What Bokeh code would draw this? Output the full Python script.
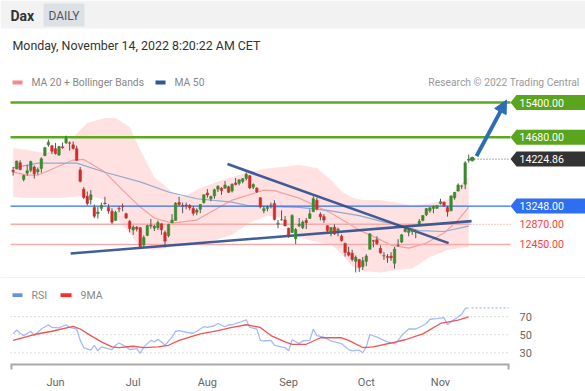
from bokeh.plotting import figure
from bokeh.layouts import column
from bokeh.models import Range1d, LinearAxis, FixedTicker, Arrow, NormalHead, ColumnDataSource
from bokeh.core.properties import value
from bokeh.embed import file_html
from bokeh.resources import INLINE

# ---------------- data (trading-day index 0 = 16 May 2022) ----------------
opens = [13990,14020,14150,13800,13930,13990,14060,13960,14030,14300,14520,14500,
         14440,14310,14480,14560,14560,14520,14440,14000,13600,13450,13380,13220,13090,13200,13310,13220,13140,12950,13200,13240,13090,12930,
         12750,12810,12800,12440,12640,12850,12790,12800,12880,12700,12630,12900,12950,13320,13260,13270,13260,13200,13120,13180,13320,
         13520,13400,13460,13600,13620,13620,13650,13560,13730,13720,13760,13820,13880,13640,13620,13420,13150,13200,13260,13300,12870,12960,12960,
         12790,12700,12570,12840,12800,12950,12990,13130,13370,13080,13030,12840,12700,12810,12740,12620,12470,12290,12270,12100,12140,11990,
         12100,12350,12530,12550,12370,12210,12200,12210,12060,12430,12500,12720,12700,12720,12710,12880,12950,13070,13150,13200,13200,
         13300,13330,13220,13150,13420,13560,13660,13700,14200]
highs = [14060,14190,14200,13900,14100,14190,14090,14050,14260,14480,14630,14520,
         14560,14500,14570,14710,14590,14590,14500,14060,13640,13550,13580,13280,13230,13320,13440,13290,13200,13150,13250,13300,13110,12960,
         12850,12830,12810,12640,12860,12980,12860,12950,12890,12740,12880,13080,13330,13440,13320,13320,13290,13250,13200,13290,13490,
         13600,13460,13610,13680,13640,13770,13670,13720,13830,13800,13830,13950,13890,13720,13640,13430,13250,13260,13320,13370,12960,13160,13040,
         12800,13080,12790,13000,12950,13000,13180,13450,13420,13120,13080,12850,12810,12870,12800,12660,12490,12400,12340,12220,12140,12190,
         12250,12680,12550,12620,12430,12290,12250,12290,12400,12560,12670,12830,12790,12780,12760,12980,13060,13200,13230,13260,13270,
         13400,13340,13250,13470,13540,13720,13690,14180,14320]
lows = [13880,14010,13990,13760,13880,13950,13820,13900,13940,14280,14480,14330,
        14320,14290,14440,14540,14400,14420,14190,13740,13390,13260,13280,13000,12990,13150,13280,13090,12880,12950,13120,13140,12980,12700,
        12650,12720,12380,12390,12620,12780,12730,12750,12650,12390,12600,12900,12950,13250,13100,13180,13160,13050,13060,13100,13300,
        13420,13350,13400,13540,13480,13610,13520,13530,13680,13680,13720,13780,13600,13600,13520,13200,13100,13140,13200,12950,12790,12950,12830,
        12590,12690,12460,12810,12770,12770,12990,13130,13160,12950,12900,12700,12620,12650,12620,12510,12200,12200,12100,11870,11880,11920,
        12000,12350,12390,12440,12260,12130,12070,12110,11950,12400,12480,12700,12620,12650,12580,12830,12930,13040,13110,13100,13200,
        13280,13230,13030,13140,13380,13550,13600,13600,14150]
closes = [13964,14186,14008,13882,13982,14175,13919,14008,14231,14462,14575,14388,
          14340,14485,14460,14653,14556,14445,14198,13762,13427,13304,13483,13038,13127,13266,13293,13145,12912,13118,13186,13231,13003,12784,
          12813,12773,12401,12595,12843,12834,12832,12906,12756,12520,12865,12959,13308,13282,13247,13254,13211,13097,13166,13282,13484,
          13479,13449,13587,13662,13574,13688,13535,13700,13695,13795,13816,13910,13626,13697,13545,13230,13194,13221,13272,12971,12893,12962,12835,
          12631,13050,12761,12872,12916,12904,13088,13403,13189,13028,12957,12741,12804,12671,12767,12532,12284,12228,12140,12184,11976,12114,
          12209,12671,12517,12471,12273,12220,12180,12172,12356,12438,12650,12766,12741,12767,12731,12931,13053,13196,13211,13243,13254,
          13339,13257,13130,13460,13533,13688,13666,14146,14224.86]
last_price = 14224.86

month_idx = [12, 34, 55, 78, 100, 121]
month_labels = ["Jun", "Jul", "Aug", "Sep", "Oct", "Nov"]

ma20_idx = [0, 4, 7, 17, 20, 26, 31, 36, 40, 45, 52, 62, 71, 74, 81, 90, 98, 103, 107, 112, 117, 122, 126, 129]
ma20_val = [13954, 13890, 13890, 14204, 14218, 13954, 13580, 13227, 13000, 12895, 12957, 13373, 13580, 13570, 13414, 13103,
            12749, 12583, 12438, 12375, 12479, 12687, 12957, 13227]
ma50_idx = [0, 7, 18, 26, 36, 44, 52, 62, 67, 81, 89, 98, 107, 115, 122, 129]
ma50_val = [14040, 14140, 14140, 13950, 13750, 13540, 13400, 13330, 13250, 13220, 13160, 13050, 12880, 12740, 12720, 12830]
band_idx = [0, 4, 9, 13, 17, 21, 26, 29, 33, 36, 40, 45, 48, 53, 58, 62, 67, 72, 76, 81, 86, 90, 93, 96, 99, 104, 109, 113, 118, 123, 126, 129]
band_up = [14453, 14411, 14350, 14420, 14681, 14972, 15076, 15076, 14889, 14411, 13850, 13539, 13435, 13620, 13760, 13850, 13954,
           14030, 14058, 14100, 14037, 13788, 13550, 13420, 13373, 13373, 13310, 13260, 13300, 13373, 13643, 13850]
band_lo = [13435, 13414, 13414, 13414, 13435, 13470, 13373, 13020, 12687, 12396, 12334, 12396, 12420, 12450, 12560, 12650, 12900,
           13050, 13000, 12600, 12500, 12450, 12250, 12000, 11900, 11870, 11920, 11950, 12190, 12334, 12370, 12396]

trend_down_x = [60.7, 123.3]
trend_down_y = [14121, 12479]
trend_up_x = [16.3, 129.8]
trend_up_y = [12263, 12936]

resistances = [15400, 14680]
pivot = 13248
supports = [12870, 12450]
arrow_from = (131.2, 14287)
arrow_to = (139.7, 15450)

rsi_idx = [0,1,2,3,5,6,8,10,11,13,15,16,18,19,20,22,23,24,25,28,29,30,32,33,35,36,37,39,40,41,42,43,45,46,47,49,51,52,54,55,57,58,
           60,61,62,64,66,67,69,70,71,73,74,76,77,78,79,81,82,84,85,86,88,90,91,93,95,96,98,99,100,101,103,105,106,108,109,110,112,
           114,115,117,118,120,122,123,125,126,127,128,129]
rsi_val = [50.9,55.2,51.6,49.0,53.8,49.0,56.3,61.0,58.0,57.5,61.0,58.0,56.3,43.7,35.8,32.9,38.3,32.2,36.5,33.6,38.3,40.8,36.5,33.6,
           34.7,29.3,36.5,43.7,42.0,44.8,42.0,38.3,47.3,53.8,54.5,52.7,51.6,53.8,58.8,58.0,59.9,62.4,58.8,61.0,61.0,63.5,66.5,58.0,
           56.3,43.7,43.0,43.7,38.3,36.5,35.8,32.2,44.4,40.1,43.0,43.7,56.3,49.0,47.3,43.0,42.0,40.1,33.6,32.2,32.9,30.0,36.5,50.2,
           47.3,43.7,42.0,40.1,43.7,49.0,56.3,56.3,58.0,62.4,67.1,67.8,68.9,61.0,67.1,69.6,72.5,79.0,79.7]
ma9_idx = [0, 6, 11, 17, 19, 22, 25, 28, 30, 34, 37, 41, 44, 47, 50, 53, 58, 62, 66, 70, 73, 77, 79, 83, 87, 93, 95, 99, 102, 107,
           111, 116, 121, 126, 129]
ma9_val = [43.7, 50.2, 53.8, 59.2, 56.3, 49.0, 42.0, 36.5, 35.8, 37.2, 35.8, 36.5, 38.3, 43.7, 47.3, 50.9, 54.5, 58.0, 61.0, 58.0,
           49.0, 42.0, 39.4, 39.4, 46.6, 46.6, 43.7, 35.8, 36.5, 40.8, 44.4, 50.9, 62.4, 66.0, 69.6]
rsi_ticks = [30, 50, 70]

# ---------------- layout helpers (page pixels) ----------------
PX0, PXS = 12.6, 3.532          # page x of day 0, pixels per trading day
def idx_at(px):
    return (px - PX0) / PXS

PPP = 20.775                    # index points per pixel on price panel
P_TOP = 15400 + 102 * PPP
P_BOT = 15400 - (278 - 102) * PPP
R_TOP = 70 + (317 - 278) * (40 / 37)
R_BOT = 30 - (366 - 354) * (40 / 37)

FONT = value("Roboto")
W = 585

# ---------------- price figure (page y 0..278) ----------------
p = figure(width=W, height=278, x_range=Range1d(idx_at(0), idx_at(585)), y_range=Range1d(P_BOT, P_TOP),
           output_backend="svg", toolbar_location=None, x_axis_location=None, y_axis_location=None,
           min_border=0, outline_line_color=None, background_fill_color="white", border_fill_color="white")
p.frame_align = False
p.xgrid.visible = False
p.ygrid.visible = False
p.extra_x_ranges = {"pgx": Range1d(0, 585)}
p.extra_y_ranges = {"pg": Range1d(278, 0)}

# header
p.quad(left=[0], right=[585], top=[0], bottom=[28], fill_color="#f2f2f2", line_color=None,
       x_range_name="pgx", y_range_name="pg")
p.quad(left=[43], right=[84], top=[3], bottom=[26], fill_color="#dde1e6", line_color=None,
       x_range_name="pgx", y_range_name="pg")
p.text(x=[10], y=[15.5], text=["Dax"], text_font=FONT, text_font_size="14px", text_font_style="bold",
       text_color="#333333", text_baseline="middle", x_range_name="pgx", y_range_name="pg")
p.text(x=[63.5], y=[15], text=["DAILY"], text_font=FONT, text_font_size="12px", text_align="center",
       text_color="#555555", text_baseline="middle", x_range_name="pgx", y_range_name="pg")
p.text(x=[12], y=[44.5], text=["Monday, November 14, 2022 8:20:22 AM CET"], text_font=FONT, text_font_size="12.4px",
       text_color="#333333", text_baseline="middle", x_range_name="pgx", y_range_name="pg")
# legend
p.quad(left=[12, 155], right=[22, 165], top=[80, 80], bottom=[84, 84], fill_color=["#f58a8a", "#2f569a"],
       line_color=None, x_range_name="pgx", y_range_name="pg")
p.text(x=[31, 174], y=[82, 82], text=["MA 20 + Bollinger Bands", "MA 50"], text_font=FONT, text_font_size="10.3px",
       text_color="#888888", text_baseline="middle", x_range_name="pgx", y_range_name="pg")
p.text(x=[579], y=[82], text=["Research \u00a9 2022 Trading Central"], text_font=FONT, text_font_size="10.3px",
       text_color="#9a9a9a", text_baseline="middle", text_align="right", x_range_name="pgx", y_range_name="pg")
# separator
p.segment(x0=[0], x1=[585], y0=[277.5], y1=[277.5], line_color="#e4e4e4", line_width=1,
          x_range_name="pgx", y_range_name="pg")

# bollinger band + moving averages
p.varea(x=band_idx, y1=band_lo, y2=band_up, fill_color="#ffd9d9", fill_alpha=0.8)
p.line(ma20_idx, ma20_val, line_color="#f4a0a0", line_width=1.2)
p.line(ma50_idx, ma50_val, line_color="#93a9cf", line_width=1.2)

# horizontal levels
LX0, LX1 = 10, 510
p.segment(x0=[LX0] * 2, x1=[LX1] * 2, y0=resistances, y1=resistances, line_color="#5ca81e", line_width=2.5,
          x_range_name="pgx")
p.segment(x0=[LX0], x1=[LX1], y0=[pivot], y1=[pivot], line_color="#3070ee", line_width=1.4, x_range_name="pgx")
p.segment(x0=[LX0, LX0], x1=[470, LX1], y0=supports, y1=supports, line_color="#f7aaaa", line_width=1.4,
          x_range_name="pgx")
p.segment(x0=[470], x1=[LX1], y0=[supports[0]], y1=[supports[0]], line_color="#f0a0a0", line_width=1.2,
          line_dash="1 2", x_range_name="pgx")
p.segment(x0=[474], x1=[LX1], y0=[last_price], y1=[last_price], line_color="#777777", line_width=1.2,
          line_dash="1 2", x_range_name="pgx")

# trend lines
p.line(trend_down_x, trend_down_y, line_color="#2b4c8c", line_width=2.6, line_alpha=0.9)
p.line(trend_up_x, trend_up_y, line_color="#2b4c8c", line_width=2.6, line_alpha=0.9)

# candles
n = len(closes)
src = ColumnDataSource(dict(
    i=list(range(n)), o=opens, h=highs, l=lows, c=closes,
    top=[max(a, b) for a, b in zip(opens, closes)], bot=[min(a, b) for a, b in zip(opens, closes)],
    col=["#3a8a2e" if c >= o else "#d12b2b" for o, c in zip(opens, closes)]))
p.segment(x0="i", x1="i", y0="l", y1="h", source=src, line_color="#555555", line_width=1)
p.vbar(x="i", width=0.72, top="top", bottom="bot", source=src, fill_color="col", line_color="col", line_width=0.5)
p.scatter([n], [last_price], size=4, color="#3a8a2e")

# target arrow
p.add_layout(Arrow(end=NormalHead(size=13, fill_color="#2d6cb6", line_color="#2d6cb6"),
                   x_start=arrow_from[0], y_start=arrow_from[1], x_end=arrow_to[0], y_end=arrow_to[1],
                   line_color="#2d6cb6", line_width=4))

# right-hand level tags
HALF = 7.5 * PPP
tags = [(resistances[0], "#5aa51c", "white"), (resistances[1], "#5aa51c", "white"),
        (last_price, "#333333", "white"), (pivot, "#2e6ff2", "white"),
        (supports[0], None, "#ff3b3b"), (supports[1], None, "#ff3b3b")]
for lvl, bg, fg in tags:
    if bg:
        p.patch(x=[510, 516, 585, 585, 516], y=[lvl, lvl + HALF, lvl + HALF, lvl - HALF, lvl - HALF],
                fill_color=bg, line_color=None, x_range_name="pgx")
    p.text(x=[519], y=[lvl], text=[f"{lvl:.2f}"], text_font=FONT, text_font_size="10.6px", text_color=fg,
           text_baseline="middle", x_range_name="pgx")

# ---------------- RSI figure (page y 278..391) ----------------
r = figure(width=W, height=113, x_range=Range1d(idx_at(10), idx_at(509)), y_range=Range1d(R_BOT, R_TOP),
           output_backend="svg", toolbar_location=None, y_axis_location=None,
           min_border_left=10, min_border_right=76, min_border_top=0, min_border_bottom=25,
           outline_line_color=None, background_fill_color="white", border_fill_color="white")
r.frame_align = False
r.xgrid.visible = False
r.ygrid.visible = False
r.extra_x_ranges = {"pgx": Range1d(10, 509)}
r.extra_y_ranges = {"pg": Range1d(366, 278)}

r.xaxis.ticker = FixedTicker(ticks=month_idx, minor_ticks=[idx_at(10.8), idx_at(508.2)])
r.xaxis.major_label_overrides = {t: lab for t, lab in zip(month_idx, month_labels)}
r.xaxis.axis_line_color = "#aaaaaa"
r.xaxis.axis_line_width = 2
r.xaxis.major_tick_line_color = None
r.xaxis.major_tick_out = 0
r.xaxis.major_tick_in = 0
r.xaxis.minor_tick_line_color = "#aaaaaa"
r.xaxis.minor_tick_line_width = 2
r.xaxis.minor_tick_out = 5
r.xaxis.minor_tick_in = 0
r.xaxis.major_label_standoff = 6
r.xaxis.major_label_text_font = "Roboto"
r.xaxis.major_label_text_font_size = "11px"
r.xaxis.major_label_text_color = "#666666"

ry = LinearAxis(ticker=FixedTicker(ticks=rsi_ticks), axis_line_color=None, major_tick_line_color=None,
                minor_tick_line_color=None, major_tick_out=0, major_tick_in=0, major_label_standoff=10,
                major_label_text_font="Roboto", major_label_text_font_size="11px", major_label_text_color="#666666")
r.add_layout(ry, "right")

r.segment(x0=[10] * 3, x1=[508] * 3, y0=rsi_ticks, y1=rsi_ticks, line_color="#bbbbbb", line_width=1,
          line_dash="1 3", x_range_name="pgx")
r.line(rsi_idx, rsi_val, line_color="#a3bcf6", line_width=1.3)
r.line(ma9_idx, ma9_val, line_color="#f25353", line_width=1.3)
r.segment(x0=[471], x1=[508], y0=[rsi_val[-1]], y1=[rsi_val[-1]], line_color="#a3bcf6", line_width=1.2,
          line_dash="2 2", x_range_name="pgx")

# RSI legend
r.quad(left=[12, 60], right=[22, 71], top=[293, 293], bottom=[297, 297], fill_color=["#6b8fe8", "#ff2a2a"],
       line_color=None, x_range_name="pgx", y_range_name="pg")
r.text(x=[31, 80], y=[295, 295], text=["RSI", "9MA"], text_font=FONT, text_font_size="10.5px", text_color="#888888",
       text_baseline="middle", x_range_name="pgx", y_range_name="pg")

layout = column(p, r, spacing=0)
open("out.html", "w").write(file_html(layout, INLINE))
